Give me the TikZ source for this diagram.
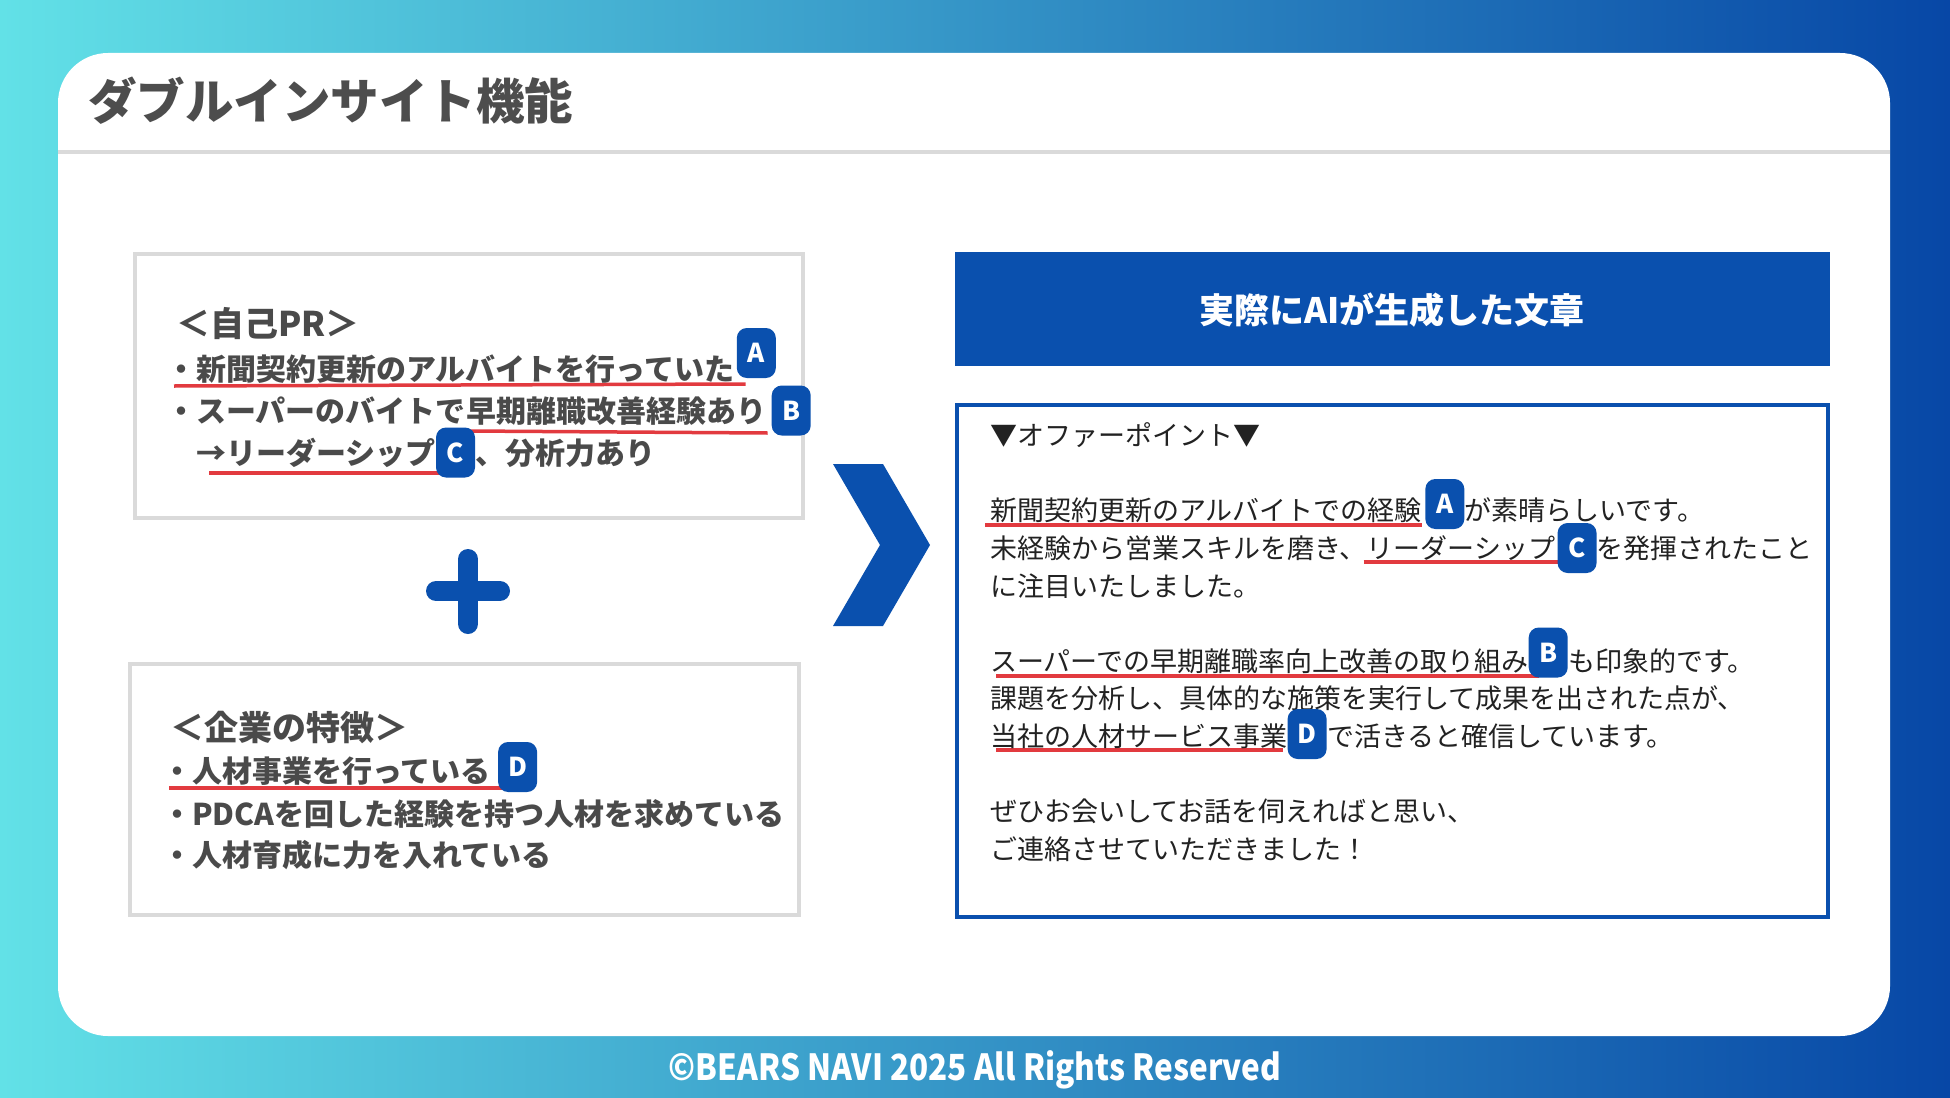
\documentclass[tikz,border=0pt]{standalone}
\usepackage{fontspec}
\newfontfamily\jp{Noto Sans CJK JP}
\usetikzlibrary{calc}
\definecolor{bblue}{HTML}{0A50AE}
\definecolor{gleft}{HTML}{62E1E7}
\definecolor{gright}{HTML}{0747A6}
\definecolor{boxgray}{HTML}{DADADA}
\definecolor{titlegray}{HTML}{4D4D4D}
\definecolor{txtgray}{HTML}{4A4A4A}
\definecolor{txtdark}{HTML}{222222}
\definecolor{ulred}{HTML}{E23A3F}
\pgfdeclarelayer{back}
\pgfdeclarelayer{mid}
\pgfsetlayers{back,mid,main}
\tikzset{
  lt/.style={font=\jp\bfseries\fontsize{30}{36}\selectfont, text=txtgray, inner sep=0pt, anchor=base west},
  lh/.style={font=\jp\bfseries\fontsize{34}{40}\selectfont, text=txtgray, inner sep=0pt, anchor=base west},
  rt/.style={font=\jp\fontsize{27}{32}\selectfont, text=txtdark, inner sep=0pt, anchor=base west},
  badge/.style={fill=bblue, rounded corners=10pt, minimum width=39pt, minimum height=50pt, inner sep=0pt, text=white, font=\jp\bfseries\fontsize{26}{30}\selectfont},
  ul/.style={draw=ulred, line width=3.5pt},
  graybox/.style={draw=boxgray, line width=3.5pt},
}
\begin{document}
\begin{tikzpicture}[x=1pt,y=-1pt]
\useasboundingbox (0,0) rectangle (1950,1097);
\begin{pgfonlayer}{back}
\shade[left color=gleft, right color=gright] (0,0) rectangle (1950,1097);
\fill[white, rounded corners=50pt] (58,53) rectangle (1890,1036);
\draw[boxgray, line width=3.5pt] (58,152) -- (1890,152);
\draw[graybox] (135,254) rectangle (803,518);
\draw[graybox] (130,664) rectangle (799,915);
\fill[bblue] (955,252) rectangle (1830,366);
\draw[bblue, line width=4pt] (957,405) rectangle (1828,917);
\fill[bblue] (833,464) -- (883,464) -- (930,545) -- (883,626) -- (833,626) -- (880,545) -- cycle;
\draw[bblue, line width=20pt, line cap=round] (436,591) -- (500,591) (468,559) -- (468,624);
\end{pgfonlayer}

% title
\node[font=\jp\bfseries\fontsize{48.5}{56}\selectfont, text=titlegray, inner sep=0pt, anchor=base west] (title) at (88,120) {ダブルインサイト機能};

% left box 1
\node[lh] (h1) at (176,336) {＜自己PR＞};
\node[lt] (l1) at (166,380) {・新聞契約更新のアルバイトを行っていた};
\node[badge, anchor=west] (bA1) at ([xshift=2pt,yshift=27pt]l1.base east) {A};
\node[lt] (l2a) at (166,422) {・スーパーのバイトで};
\node[lt] (l2b) at (l2a.base east) {早期離職改善経験あり};
\node[badge, anchor=west] (bB1) at ([xshift=5pt,yshift=11.5pt]l2b.base east) {B};
\node[lt] (l3a) at (196,464) {→リーダーシップ};
\node[badge, anchor=west] (bC1) at ([xshift=0pt,yshift=11.5pt]l3a.base east) {C};
\node[lt] (l3b) at (bC1.east |- l3a.base) {、分析力あり};

% left box 2
\node[lh] (h2) at (170,740) {＜企業の特徴＞};
\node[lt] (m1) at (162,782) {・人材事業を行っている};
\node[badge, anchor=west] (bD1) at ([xshift=7pt,yshift=15pt]m1.base east) {D};
\node[lt] (m2) at (162,825) {・PDCAを回した経験を持つ人材を求めている};
\node[lt] (m3) at (162,866) {・人材育成に力を入れている};

% right header
\node[font=\jp\bfseries\fontsize{35}{40}\selectfont, text=white, inner sep=0pt, anchor=base] (hdr) at (1392,323) {実際にAIが生成した文章};

% right box text
\node[rt] (r0) at (990,445) {▼オファーポイント▼};
\node[rt] (r1a) at (990,520) {新聞契約更新のアルバイトでの経験};
\node[badge, anchor=west] (bA2) at ([xshift=3pt,yshift=16pt]r1a.base east) {A};
\node[rt] (r1b) at (bA2.east |- r1a.base) {が素晴らしいです。};
\node[rt] (r2a) at (990,558) {未経験から営業スキルを磨き、};
\node[rt] (r2b) at (r2a.base east) {リーダーシップ};
\node[badge, anchor=west] (bC2) at ([xshift=2pt,yshift=10pt]r2b.base east) {C};
\node[rt] (r2c) at (bC2.east |- r2a.base) {を発揮されたこと};
\node[rt] (r3) at (990,596) {に注目いたしました。};
\node[rt] (r4a) at (990,671) {スーパーでの早期離職率向上改善の取り組み};
\node[badge, anchor=west] (bB2) at ([xshift=0pt,yshift=18.5pt]r4a.base east) {B};
\node[rt] (r4b) at (bB2.east |- r4a.base) {も印象的です。};
\node[rt] (r5) at (990,708) {課題を分析し、具体的な施策を実行して成果を出された点が、};
\node[rt] (r6a) at (990,746) {当社の人材サービス事業};
\node[badge, anchor=west] (bD2) at ([xshift=0pt,yshift=12pt]r6a.base east) {D};
\node[rt] (r6b) at (bD2.east |- r6a.base) {で活きると確信しています。};
\node[rt] (r7) at (990,821) {ぜひお会いしてお話を伺えればと思い、};
\node[rt] (r8) at (990,859) {ご連絡させていただきました！};

% footer
\node[font=\jp\bfseries\fontsize{36}{42}\selectfont, text=white, inner sep=0pt, anchor=base] (foot) at (975,1080) {\scalebox{0.875}[1]{©BEARS NAVI 2025 All Rights Reserved}};

% underlines
\begin{pgfonlayer}{mid}
\draw[ul] ($(l1.base west)+(8,6)$) -- ($(l1.base east)+(11,4)$);
\draw[ul] ($(l2b.base west)+(2,9)$) -- ($(l2b.base east)+(1,11)$);
\draw[ul] ($(l3a.base west)+(13,9)$) -- ($(l3a.base east)+(3,9)$);
\draw[ul] ($(m1.base west)+(7,6)$) -- ($(m1.base east)+(23,6)$);
\draw[ul] ($(r1a.base west)+(-5,5)$) -- ($(r1a.base east)+(0,5)$);
\draw[ul] ($(r2b.base west)+(-3,4)$) -- ($(r2b.base east)+(6,4)$);
\draw[ul] ($(r4a.base west)+(6,5)$) -- ($(r4a.base east)+(10,5)$);
\draw[ul] ($(r6a.base west)+(6,4)$) -- ($(r6a.base east)+(-4,4)$);
\end{pgfonlayer}
\end{tikzpicture}
\end{document}
